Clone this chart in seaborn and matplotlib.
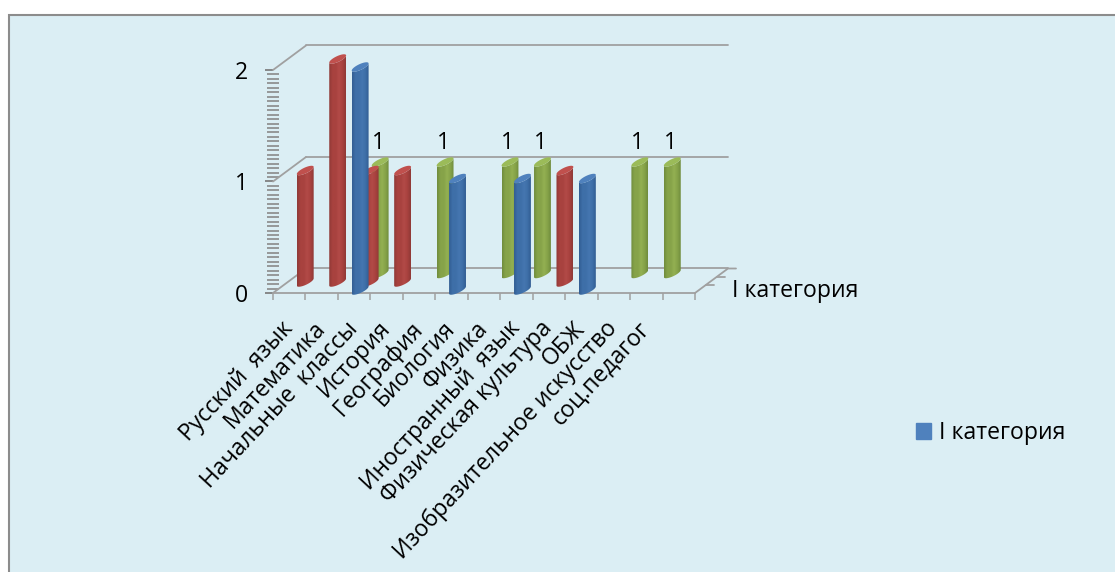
import numpy as np
import pandas as pd
import seaborn as sns
from matplotlib import pyplot as plt
from matplotlib.colors import LinearSegmentedColormap
from matplotlib.patches import PathPatch, Patch, Rectangle
from matplotlib.path import Path
from matplotlib.transforms import Affine2D, IdentityTransform

categories = ['Русский  язык', 'Математика', 'Начальные  классы', 'История', 'География',
              'Биология', 'Физика', 'Иностранный  язык', 'Физическая культура', 'ОБЖ',
              'Изобразительное искусство', 'соц.педагог', ' ']
# значения трёх рядов, None = нет столбца
blueValues = [None, None, 2, None, None, 1, None, 1, None, 1, None, None, None]
redValues = [1, 2, 1, 1, None, None, None, None, 1, None, None, None, None]
greenValues = [None, None, 1, None, 1, None, 1, 1, None, None, 1, 1, None]
yTicks = [0, 1, 2]
legendName = 'I категория'

FONT = ['Open Sans', 'DejaVu Sans']
GRAY = '#a0a0a0'
BG = '#dbeef4'

sns.set_style('white')
plt.rcParams['font.family'] = FONT
plt.rcParams['font.size'] = 16.6
plt.rcParams['text.color'] = 'black'
plt.rcParams['xtick.labelcolor'] = 'black'
plt.rcParams['ytick.labelcolor'] = 'black'

W, H = 1115, 572
fig = plt.figure(figsize=(W / 100, H / 100), dpi=100, facecolor='white')
fig.add_artist(Rectangle((9 / W, -0.02), 1, 1.02 - 15 / H, transform=fig.transFigure,
                         facecolor=BG, edgecolor='#8c8c8c', linewidth=1.5, zorder=-5))

# пиксели: x 273..695, y 293 (0) .. 70 (2)
ax = fig.add_axes([273 / W, 1 - 293 / H, 422 / W, 223 / H])
ax.patch.set_alpha(0)


def bars(values):
    df = pd.DataFrame({'cat': categories, 'val': values})
    before = len(ax.patches)
    sns.barplot(data=df, x='cat', y='val', order=categories, width=0.52, ax=ax,
                color='gray', errorbar=None)
    return ax.patches[before:]


def cylinder(rect, tr, dark, mid, light, cap, z):
    x0, w, h = rect.get_x(), rect.get_width(), rect.get_height()
    rect.set_visible(False)
    xc, hw = x0 + w / 2, w / 2
    shear, bulge = 0.032, 0.028
    t = np.linspace(0, np.pi, 30)
    # боковая поверхность: нижний край выпуклый, наклон как в 3D
    bx = xc - hw * np.cos(t)
    by = -shear * np.cos(t) - bulge * np.sin(t)
    tx = xc + hw * np.cos(t)
    topFront = h + shear * np.cos(t) - bulge * np.sin(t)
    topBack = h + shear * np.cos(t) + bulge * np.sin(t)
    body = Path(np.column_stack([np.r_[bx, tx, bx[0]], np.r_[by, topFront, by[0]]]))
    cmap = LinearSegmentedColormap.from_list('c', [dark, mid, mid, light, mid, dark])
    im = ax.imshow(np.linspace(0, 1, 64)[None, :], extent=(x0, x0 + w, -0.2, h + 0.2),
                   cmap=cmap, aspect='auto', transform=tr, zorder=z)
    # столбец выходит за оси из-за сдвига по глубине
    im.set_clip_box(fig.bbox)
    im.set_clip_path(PathPatch(body, transform=tr))
    top = Path(np.column_stack([np.r_[tx, tx[::-1]], np.r_[topBack, topFront[::-1]]]))
    ax.add_patch(PathPatch(top, facecolor=cap, edgecolor='none', transform=tr,
                           zorder=z + 0.1, clip_on=False))


greenBars = bars(greenValues)
redBars = bars(redValues)
blueBars = bars(blueValues)

ax.set_xlim(-0.5, 12.5)
ax.set_ylim(0, 2)
sns.despine(ax=ax, left=True, bottom=False, top=True, right=True)
ax.spines['bottom'].set_color(GRAY)
ax.spines['bottom'].set_linewidth(1.3)
ax.set_xlabel('')
ax.set_ylabel('')

# сдвиги рядов по глубине в пикселях
greenTr = ax.transData + Affine2D().translate(26, 19.5)
redTr = ax.transData + Affine2D().translate(16, 11)
blueTr = ax.transData + Affine2D().translate(6, 3)

for r in greenBars:
    cylinder(r, greenTr, '#708c3d', '#86a349', '#93b052', '#9BBB59', 3)
for r in redBars:
    cylinder(r, redTr, '#8f3936', '#a8423f', '#b24a47', '#C0504D', 4)
for r in blueBars:
    cylinder(r, blueTr, '#325e93', '#3e6fa8', '#4576b0', '#4F81BD', 5)

# задняя стенка и пол
backTr = ax.transData + Affine2D().translate(33, 24.5)
for v in yTicks:
    ax.plot([-0.5, 12.5], [v, v], color=GRAY, lw=1.3, transform=backTr, clip_on=False, zorder=1)
    p = ax.transData.transform((-0.5, v))
    ax.plot([p[0], p[0] + 33], [p[1], p[1] + 24.5], color=GRAY, lw=1.3,
            transform=IdentityTransform(), clip_on=False, zorder=1)
p = ax.transData.transform((12.5, 0))
ax.plot([p[0], p[0] + 33, p[0] + 41], [p[1], p[1] + 24.5, p[1] + 24.5], color=GRAY, lw=1.3,
        transform=IdentityTransform(), clip_on=False, zorder=1)
for k in (1 / 3, 2 / 3):
    ax.plot([p[0] + 33 * k, p[0] + 33 * k + 8], [p[1] + 24.5 * k, p[1] + 24.5 * k], color=GRAY, lw=1.3,
            transform=IdentityTransform(), clip_on=False, zorder=1)

ax.set_xticks(range(len(categories)), categories, rotation=47, ha='right', va='center',
              rotation_mode='anchor')
ax.set_xticks(np.arange(-0.5, 13, 1), minor=True)
ax.tick_params(axis='x', which='major', length=0, pad=23)
ax.tick_params(axis='x', which='minor', length=5, width=1.1, color=GRAY, direction='out', bottom=True)
ax.set_yticks(yTicks, [str(v) for v in yTicks])
ax.set_yticks(np.arange(0, 2.001, 0.04), minor=True)
ax.tick_params(axis='y', which='major', length=5.8, width=1.3, color='#808080', pad=12, left=True)
ax.tick_params(axis='y', which='minor', length=8.6, width=1.2, color='#8a8a8a', direction='inout', left=True)

# подписи данных только у зелёного ряда
for r in greenBars:
    ax.annotate(str(int(r.get_height())), (r.get_x() + r.get_width() / 2, r.get_height()),
                xycoords=greenTr, xytext=(-2, 7), textcoords='offset pixels',
                ha='center', va='bottom', zorder=6, annotation_clip=False)

fig.text(732 / W, 1 - 291 / H, legendName, ha='left', va='center')
fig.legend(handles=[Patch(color='#4F81BD', label=legendName)], loc='center left',
           bbox_to_anchor=(916 / W, 1 - 433 / H), frameon=False, handlelength=0.64,
           handleheight=0.64, handletextpad=0.34, borderpad=0, borderaxespad=0)

fig.savefig('out.png', dpi=100)
